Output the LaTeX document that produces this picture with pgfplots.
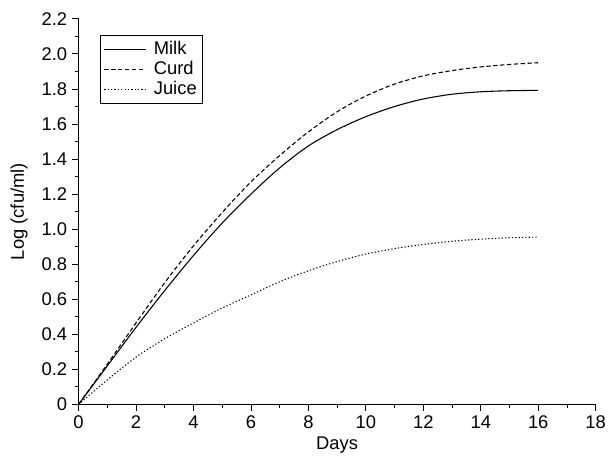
\documentclass[border=0pt]{standalone}
\usepackage{pgfplots}
\pgfplotsset{compat=1.18}
\usepackage{fontspec}
\setmainfont{Liberation Sans}

\begin{document}
\begin{tikzpicture}
\begin{axis}[
    scale only axis,
    width=338pt,
    height=252pt,
    xmin=0, xmax=18,
    ymin=0, ymax=2.2,
    axis lines=left,
    axis line style={-, black, line width=0.6pt},
    xtick={0,2,...,18},
    minor xtick={1,3,...,17},
    ytick={0,0.2,...,2.21},
    minor ytick={0.1,0.3,...,2.11},
    yticklabels={0,0.2,0.4,0.6,0.8,1.0,1.2,1.4,1.6,1.8,2.0,2.2},
    tick align=outside,
    major tick length=4pt,
    minor tick length=2.5pt,
    tick style={black, line width=0.6pt},
    /pgf/number format/assume math mode=true,
    tick label style={font=\fontsize{12}{14}\selectfont},
    label style={font=\fontsize{12}{14}\selectfont},
    xlabel={Days},
    ylabel={Log (cfu/ml)},
    xlabel style={at={(axis description cs:0.5,-0.106)}, anchor=center},
    ylabel style={at={(axis description cs:-0.115,0.5)}, anchor=center},
    legend cell align=left,
    legend style={
        at={(0.042,0.959)},
        anchor=north west,
        draw=black,
        line width=0.6pt,
        fill=white,
        font=\fontsize{12}{14}\selectfont,
        row sep=-1pt,
        column sep=3pt,
        inner sep=2pt,
    },
    legend image code/.code={\draw[#1] (0pt,0pt) -- (27pt,0pt);},
]

% Milk
\addplot[black, line width=0.7pt, smooth] coordinates {
    (0,0) (1,0.22) (2,0.44) (3,0.65) (4,0.85) (5,1.035) (6,1.20)
    (7,1.35) (8,1.475) (9,1.568) (10,1.642) (11,1.70) (12,1.743)
    (13,1.77) (14,1.784) (15,1.79) (16,1.792)
};
\addlegendentry{Milk}

% Curd
\addplot[black, line width=0.7pt, smooth, dash pattern=on 2.8pt off 1.7pt] coordinates {
    (0,0) (1,0.23) (2,0.465) (3,0.695) (4,0.905) (5,1.095) (6,1.27)
    (7,1.42) (8,1.555) (9,1.67) (10,1.76) (11,1.828) (12,1.875)
    (13,1.905) (14,1.926) (15,1.94) (16,1.95)
};
\addlegendentry{Curd}

% Juice
\addplot[black, line width=0.7pt, smooth, dash pattern=on 0.8pt off 1.4pt] coordinates {
    (0,0) (1,0.14) (2,0.27) (3,0.375) (4,0.465) (5,0.55) (6,0.625)
    (7,0.70) (8,0.763) (9,0.815) (10,0.858) (11,0.889) (12,0.913)
    (13,0.931) (14,0.943) (15,0.951) (16,0.955)
};
\addlegendentry{Juice}

\coordinate (bbsw) at (rel axis cs:-0.152,-0.137);
\coordinate (bbne) at (rel axis cs:1.023,1.049);
\end{axis}
\path (bbsw) rectangle (bbne);
\end{tikzpicture}
\end{document}
